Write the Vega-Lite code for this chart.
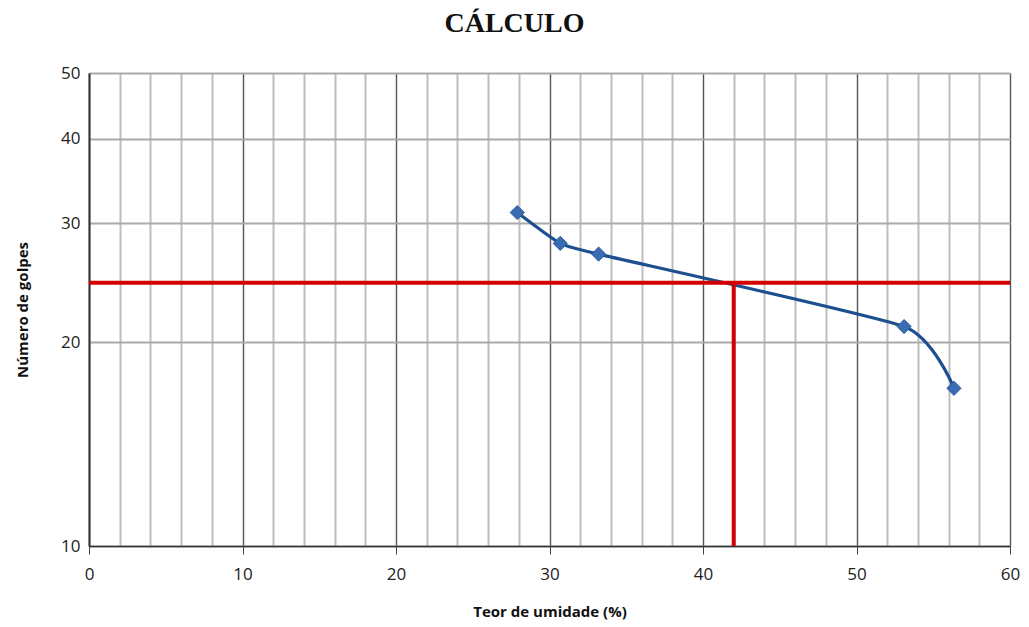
{
  "$schema": "https://vega.github.io/schema/vega-lite/v6.json",
  "width": 921,
  "height": 473,
  "autosize": "none",
  "padding": {"left": 89, "top": 73, "right": 19, "bottom": 81},
  "background": "white",
  "title": {
    "text": "CÁLCULO",
    "font": "Liberation Serif",
    "fontSize": 28,
    "fontWeight": "bold",
    "color": "#111",
    "anchor": "middle",
    "dx": -35,
    "offset": 26
  },
  "config": {
    "view": {"stroke": null},
    "axis": {"labelFont": "Open Sans", "titleFont": "Open Sans", "labelColor": "#222", "titleColor": "#111"}
  },
  "datasets": {
    "pts": [
      {"umidade": 27.9, "golpes": 31.1},
      {"umidade": 30.7, "golpes": 28.0},
      {"umidade": 33.2, "golpes": 27.0},
      {"umidade": 53.1, "golpes": 21.1},
      {"umidade": 56.35, "golpes": 17.1}
    ],
    "hline": [{"x1": 0, "x2": 60, "y": 24.5}],
    "vline": [{"x": 42, "y1": 10, "y2": 24.5}]
  },
  "layer": [
    {
      "data": {"name": "pts"},
      "mark": {"type": "line", "color": "#1c4f8f", "strokeWidth": 3.2, "interpolate": "cardinal", "tension": 0.5},
      "encoding": {
        "x": {
          "field": "umidade", "type": "quantitative",
          "scale": {"domain": [0, 60], "nice": false},
          "axis": {
            "title": "Teor de umidade (%)",
            "titleFontSize": 15, "titleFontWeight": "bold", "titlePadding": 22,
            "values": [0,2,4,6,8,10,12,14,16,18,20,22,24,26,28,30,32,34,36,38,40,42,44,46,48,50,52,54,56,58,60],
            "tickCount": 200,
            "format": "d",
            "labelExpr": "datum.value % 10 === 0 ? datum.label : ''",
            "labelOverlap": false,
            "labelFlush": false,
            "labelFontSize": 17, "labelPadding": 12,
            "grid": true,
            "gridColor": {"condition": {"test": "datum.value % 10 === 0", "value": "#555555"}, "value": "#bdbdbd"},
            "gridWidth": {"condition": {"test": "datum.value % 10 === 0", "value": 1.4}, "value": 2},
            "ticks": true,
            "tickSize": 8,
            "tickColor": "#444",
            "tickOpacity": {"condition": {"test": "datum.value % 10 === 0", "value": 1}, "value": 0},
            "domainColor": "#333", "domainWidth": 1.5
          }
        },
        "y": {
          "field": "golpes", "type": "quantitative",
          "scale": {"type": "log", "domain": [10, 50], "nice": false},
          "axis": {
            "title": "Número de golpes",
            "titleFontSize": 15, "titleFontWeight": "bold", "titlePadding": 30,
            "values": [10, 20, 30, 40, 50],
            "tickCount": 50,
            "format": "d",
            "labelOverlap": false,
            "labelFlush": false,
            "labelFontSize": 17, "labelPadding": 9,
            "ticks": false,
            "grid": true, "gridColor": "#aaaaaa", "gridWidth": 2,
            "domainColor": "#333", "domainWidth": 2
          }
        }
      }
    },
    {
      "data": {"name": "pts"},
      "mark": {"type": "point", "shape": "diamond", "filled": true, "size": 200, "color": "#3a6cb3", "opacity": 1, "stroke": "#2a5a9a", "strokeWidth": 1},
      "encoding": {
        "x": {"field": "umidade", "type": "quantitative"},
        "y": {"field": "golpes", "type": "quantitative"}
      }
    },
    {
      "data": {"name": "hline"},
      "mark": {"type": "rule", "color": "#d40000", "strokeWidth": 4},
      "encoding": {
        "x": {"field": "x1", "type": "quantitative"},
        "x2": {"field": "x2"},
        "y": {"field": "y", "type": "quantitative"}
      }
    },
    {
      "data": {"name": "vline"},
      "mark": {"type": "rule", "color": "#d40000", "strokeWidth": 4},
      "encoding": {
        "x": {"field": "x", "type": "quantitative"},
        "y": {"field": "y1", "type": "quantitative"},
        "y2": {"field": "y2"}
      }
    }
  ]
}
